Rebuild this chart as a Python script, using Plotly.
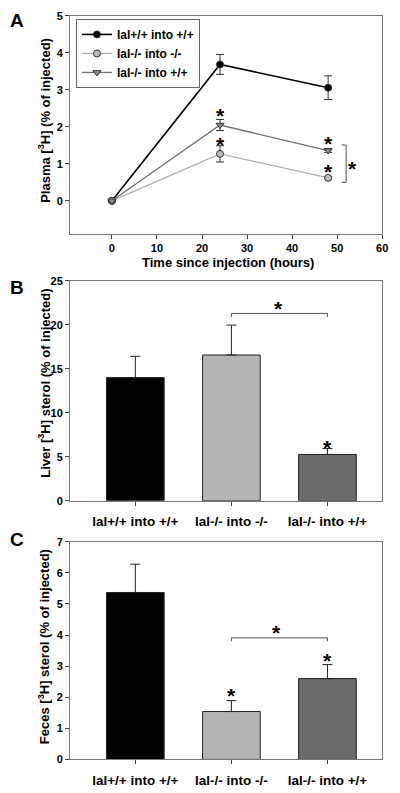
import plotly.graph_objects as go

# ---------------- Data ----------------
# Panel A: plasma time course
time_h = [0, 24, 48]
series_names = ["lal+/+ into +/+", "lal-/- into -/-", "lal-/- into +/+"]
plasma_wt_wt = [0, 3.69, 3.06]
plasma_wt_wt_err = [0, 0.27, 0.32]
plasma_ko_ko = [0, 1.27, 0.62]
plasma_ko_ko_err = [0, 0.22, 0.03]
plasma_ko_wt = [0, 2.05, 1.36]
plasma_ko_wt_err = [0, 0.15, 0.05]

# Panel B: liver sterol
groups = ["lal+/+ into +/+", "lal-/- into -/-", "lal-/- into +/+"]
liver = [14.0, 16.57, 5.26]
liver_err = [2.42, 3.4, 0.67]

# Panel C: feces sterol
feces = [5.37, 1.54, 2.6]
feces_err = [0.91, 0.35, 0.45]

line_colors = ["#000000", "#b0b0b0", "#707070"]
bar_colors = ["#000000", "#b4b4b4", "#6b6b6b"]
FONT = "Arial, Liberation Sans, sans-serif"

# the page body has an 8px margin, so the figure starts at (8, 8) in the window
OFF = 8
W, H = 392, 785
def px(x):
    return (x - OFF) / W
def py(y):
    return 1 - (y - OFF) / H
def xd(a, b):
    return [px(a), px(b)]
def yd(top, bottom):
    return [py(bottom), py(top)]

fig = go.Figure()

# ---------- Panel A ----------
plasma = [plasma_wt_wt, plasma_ko_ko, plasma_ko_wt]
plasma_err = [plasma_wt_wt_err, plasma_ko_ko_err, plasma_ko_wt_err]
symbols = ["circle", "circle", "triangle-down"]
marker_fill = ["#000000", "#bdbdbd", "#8a8a8a"]
for i in range(3):
    fig.add_trace(go.Scatter(
        x=time_h, y=plasma[i], name="<b>" + series_names[i] + "</b>", mode="lines+markers",
        line=dict(color=line_colors[i], width=1.6 if i == 0 else 1.3),
        marker=dict(symbol=symbols[i], size=7, color=marker_fill[i],
                    line=dict(color="#333333", width=1)),
        error_y=dict(type="data", array=plasma_err[i], color="#333333",
                     thickness=1, width=4),
        xaxis="x", yaxis="y", showlegend=True,
    ))

# ---------- Panel B ----------
fig.add_trace(go.Bar(
    x=[0, 1, 2], y=liver, width=0.6,
    marker=dict(color=bar_colors, line=dict(color="#222222", width=1)),
    error_y=dict(type="data", symmetric=False, array=liver_err,
                 arrayminus=[0, 0, 0], color="#222222", thickness=1, width=5),
    xaxis="x2", yaxis="y2", showlegend=False,
))

# ---------- Panel C ----------
fig.add_trace(go.Bar(
    x=[0, 1, 2], y=feces, width=0.6,
    marker=dict(color=bar_colors, line=dict(color="#222222", width=1)),
    error_y=dict(type="data", symmetric=False, array=feces_err,
                 arrayminus=[0, 0, 0], color="#222222", thickness=1, width=5),
    xaxis="x3", yaxis="y3", showlegend=False,
))

tickfont = dict(family=FONT, size=11, color="#000000")
catfont = dict(family=FONT, size=13.5, color="#000000")
titlefont = dict(family=FONT, size=13, color="#000000")
axis_common = dict(showgrid=False, zeroline=False, showline=True, mirror=True,
                   linecolor="#777777", linewidth=1, ticks="outside",
                   ticklen=4, tickcolor="#444444", ticklabeloverflow="allow")

cat_ticks = ["<b>" + g + "</b>" for g in groups]

fig.update_layout(
    width=W, height=H,
    margin=dict(l=0, r=0, t=0, b=0),
    paper_bgcolor="white", plot_bgcolor="white",
    font=dict(family=FONT, color="#000000"),
    xaxis=dict(domain=xd(71, 388), range=[-9.3, 60], tickvals=[0, 10, 20, 30, 40, 50, 60],
               ticktext=["<b>%d</b>" % v for v in [0, 10, 20, 30, 40, 50, 60]],
               tickfont=tickfont, anchor="y", **axis_common),
    yaxis=dict(domain=yd(10, 231.5), range=[-0.9, 5], tickvals=[0, 1, 2, 3, 4, 5],
               ticktext=["<b>%d</b>" % v for v in range(6)],
               tickfont=tickfont, anchor="x", **axis_common),
    xaxis2=dict(domain=xd(71, 388), range=[-0.68, 2.57], tickvals=[0, 1, 2],
                ticktext=cat_ticks, tickfont=catfont, ticklabelstandoff=4,
                anchor="y2", **axis_common),
    yaxis2=dict(domain=yd(279, 502.3), range=[0, 25], tickvals=[0, 5, 10, 15, 20, 25],
                ticktext=["<b>%d</b>" % v for v in [0, 5, 10, 15, 20, 25]],
                tickfont=tickfont, anchor="x2", **axis_common),
    xaxis3=dict(domain=xd(71, 388), range=[-0.68, 2.57], tickvals=[0, 1, 2],
                ticktext=cat_ticks, tickfont=catfont, ticklabelstandoff=4,
                anchor="y3", **axis_common),
    yaxis3=dict(domain=yd(544, 765), range=[0, 7], tickvals=list(range(8)),
                ticktext=["<b>%d</b>" % v for v in range(8)],
                tickfont=tickfont, anchor="x3", **axis_common),
    legend=dict(x=px(77), y=py(13), xanchor="left", yanchor="top",
                bordercolor="#666666", borderwidth=1, bgcolor="white",
                font=dict(family=FONT, size=12, color="#000000"),
                itemwidth=30, tracegroupgap=0),
)

# Axis titles (as annotations for exact placement)
def title(text, x, y, angle):
    fig.add_annotation(text=text, x=px(x), y=py(y), xref="paper", yref="paper",
                       showarrow=False, font=titlefont, textangle=angle,
                       xanchor="center", yanchor="middle")

title("<b>Plasma [<sup>3</sup>H] (% of injected)</b>", 44.5, 115.5, -90)
title("<b>Time since injection (hours)</b>", 231.5, 260, 0)
title("<b>Liver [<sup>3</sup>H] sterol (% of injected)</b>", 44.5, 382.5, -90)
title("<b>Feces [<sup>3</sup>H] sterol (% of injected)</b>", 44.5, 650, -90)

# Panel letters
for letter, ypx in [("A", 15), ("B", 286), ("C", 541.5)]:
    fig.add_annotation(text="<b>%s</b>" % letter, x=px(8.5), y=py(ypx), xref="paper", yref="paper",
                       showarrow=False, font=dict(family=FONT, size=19, color="#000000"),
                       xanchor="left", yanchor="middle")

star_font = dict(family=FONT, size=21, color="#000000")
def star(x, y, xa, ya):
    fig.add_annotation(text="<b>*</b>", x=x, y=y, xref=xa, yref=ya, showarrow=False,
                       font=star_font, xanchor="center", yanchor="middle")

br = dict(color="#555555", width=1)

# Panel A asterisks and bracket
star(24, 2.32, "x", "y")
star(24, 1.52, "x", "y")
star(48, 1.56, "x", "y")
star(48, 0.78, "x", "y")
star(53.5, 0.88, "x", "y")
fig.add_shape(type="line", x0=52, x1=52, y0=0.5, y1=1.51, xref="x", yref="y", line=br)
fig.add_shape(type="line", x0=51, x1=52, y0=1.51, y1=1.51, xref="x", yref="y", line=br)
fig.add_shape(type="line", x0=51, x1=52, y0=0.5, y1=0.5, xref="x", yref="y", line=br)

# Panel B
star(2, 6.1, "x2", "y2")
star(1.49, 21.9, "x2", "y2")
fig.add_shape(type="line", x0=1, x1=2, y0=21.3, y1=21.3, xref="x2", yref="y2", line=br)
fig.add_shape(type="line", x0=1, x1=1, y0=21.3, y1=20.9, xref="x2", yref="y2", line=br)
fig.add_shape(type="line", x0=2, x1=2, y0=21.3, y1=20.9, xref="x2", yref="y2", line=br)

# Panel C
star(1, 2.06, "x3", "y3")
star(2, 3.18, "x3", "y3")
star(1.47, 4.07, "x3", "y3")
fig.add_shape(type="line", x0=1, x1=2, y0=3.91, y1=3.91, xref="x3", yref="y3", line=br)
fig.add_shape(type="line", x0=1, x1=1, y0=3.91, y1=3.8, xref="x3", yref="y3", line=br)
fig.add_shape(type="line", x0=2, x1=2, y0=3.91, y1=3.8, xref="x3", yref="y3", line=br)

fig.write_html("out.html")
